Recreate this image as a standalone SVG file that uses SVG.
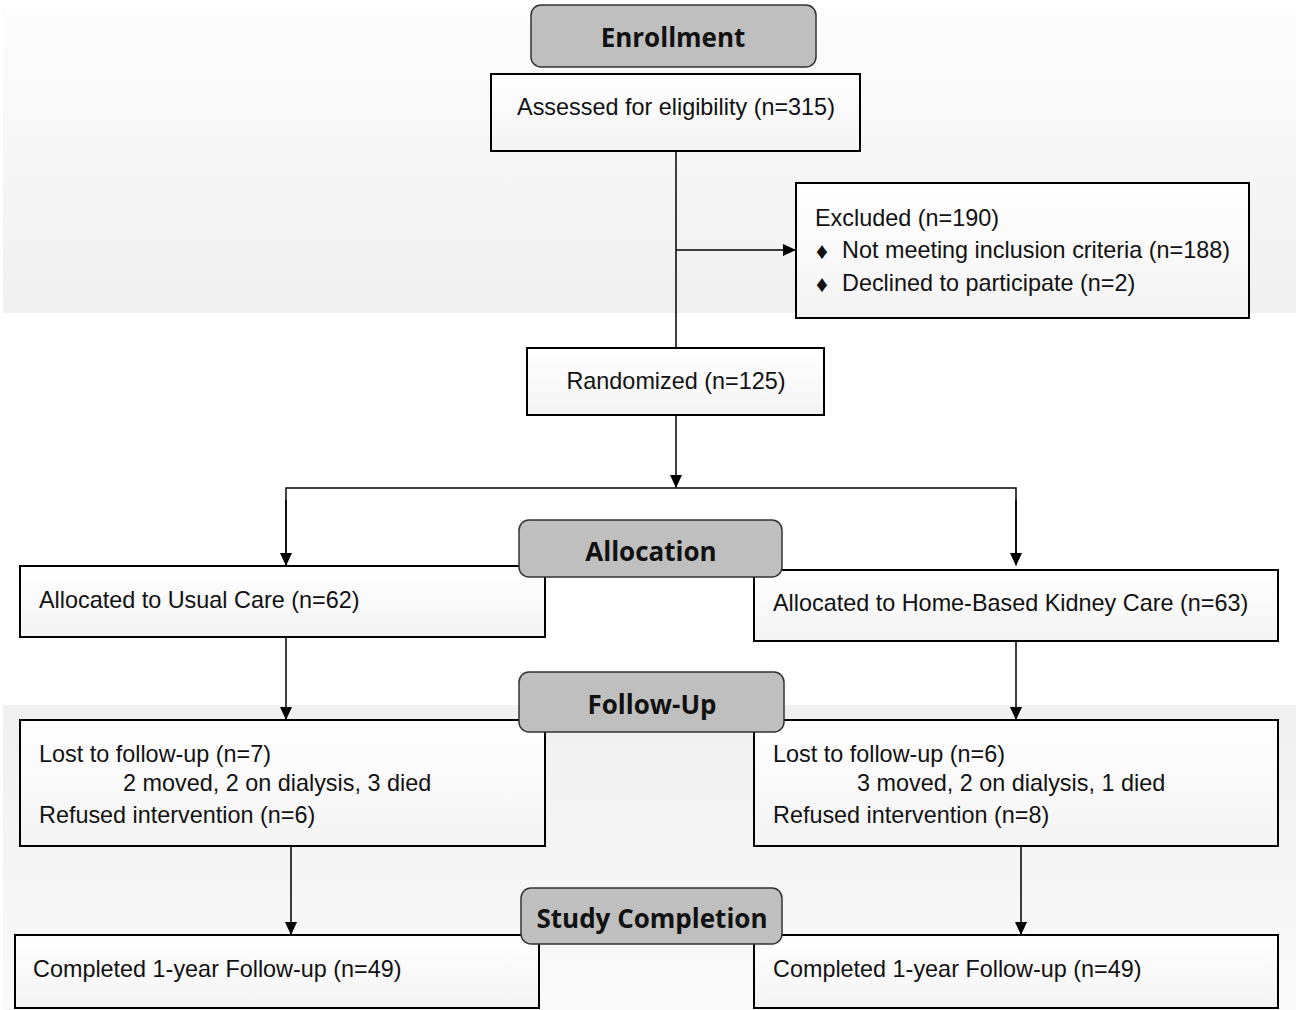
<svg xmlns="http://www.w3.org/2000/svg" width="1296" height="1010" viewBox="0 0 1296 1010">
<style>
.box{stroke:#000;stroke-width:2;fill:url(#boxg)}
.hdr{fill:#bfbfbf;stroke:#333;stroke-width:1.5}
.ht{font-family:"Open Sans","Noto Sans",sans-serif;font-weight:700;font-size:26px;fill:#111;text-anchor:middle}
.t{font-family:"Liberation Sans",Arial,sans-serif;font-size:23.4px;fill:#111}
.c{text-anchor:middle}
.ln{stroke:#000;stroke-width:1.5;fill:none}
</style>
<defs>
<linearGradient id="topband" x1="0" y1="0" x2="0" y2="1">
<stop offset="0" stop-color="#fdfdfd"/><stop offset="1" stop-color="#f0f0f0"/>
</linearGradient>
<linearGradient id="botband" x1="0" y1="0" x2="0" y2="1">
<stop offset="0" stop-color="#f0f0f0"/><stop offset="1" stop-color="#fafafa"/>
</linearGradient>
<linearGradient id="boxg" x1="0" y1="0" x2="0" y2="1">
<stop offset="0" stop-color="#ffffff"/><stop offset="1" stop-color="#f4f4f4"/>
</linearGradient>
<marker id="arr" markerWidth="13" markerHeight="12" refX="12" refY="6" orient="auto" markerUnits="userSpaceOnUse">
<path d="M0,0 L13,6 L0,12 Z" fill="#000"/>
</marker>
</defs>
<rect width="1296" height="1010" fill="#fff"/>
<rect x="3" y="8" width="1293" height="305" fill="url(#topband)"/>
<rect x="3" y="705" width="1293" height="305" fill="url(#botband)"/>

<g id="connectors">
<line class="ln" x1="676" y1="151" x2="676" y2="348"/>
<line class="ln" x1="676" y1="250" x2="795" y2="250" marker-end="url(#arr)"/>
<line class="ln" x1="676" y1="415" x2="676" y2="487" marker-end="url(#arr)"/>
<polyline class="ln" points="286,565 286,488 1016,488 1016,565"/>
<line class="ln" x1="286" y1="500" x2="286" y2="565" marker-end="url(#arr)"/>
<line class="ln" x1="1016" y1="500" x2="1016" y2="565" marker-end="url(#arr)"/>
<line class="ln" x1="286" y1="637" x2="286" y2="719" marker-end="url(#arr)"/>
<line class="ln" x1="1016" y1="641" x2="1016" y2="719" marker-end="url(#arr)"/>
<line class="ln" x1="291" y1="846" x2="291" y2="934" marker-end="url(#arr)"/>
<line class="ln" x1="1021" y1="846" x2="1021" y2="934" marker-end="url(#arr)"/>
</g>

<g id="assessed">
<rect class="box" x="491" y="74" width="369" height="77"/>
<text class="t c" x="676" y="115">Assessed for eligibility (n=315)</text>
</g>
<g id="enrollment">
<rect class="hdr" x="531" y="5" width="285" height="62" rx="10"/>
<text class="ht" x="673" y="47">Enrollment</text>
</g>
<g id="excluded">
<rect class="box" x="796" y="183" width="453" height="135"/>
<text class="t" x="815" y="226">Excluded (n=190)</text>
<text class="t" x="816" y="259" font-size="14">♦</text>
<text class="t" x="842" y="258">Not meeting inclusion criteria (n=188)</text>
<text class="t" x="816" y="292" font-size="14">♦</text>
<text class="t" x="842" y="291">Declined to participate (n=2)</text>
</g>
<g id="randomized">
<rect class="box" x="527" y="348" width="297" height="67"/>
<text class="t c" x="676" y="389">Randomized (n=125)</text>
</g>
<g id="usual">
<rect class="box" x="20" y="566" width="525" height="71"/>
<text class="t" x="39" y="608">Allocated to Usual Care (n=62)</text>
</g>
<g id="home">
<rect class="box" x="754" y="570" width="524" height="71"/>
<text class="t" x="773" y="611">Allocated to Home-Based Kidney Care (n=63)</text>
</g>
<g id="allocation">
<rect class="hdr" x="519" y="520" width="263" height="57" rx="10"/>
<text class="ht" x="651" y="561">Allocation</text>
</g>
<g id="lost-left">
<rect class="box" x="20" y="720" width="525" height="126"/>
<text class="t" x="39" y="762">Lost to follow-up (n=7)</text>
<text class="t" x="123" y="791">2 moved, 2 on dialysis, 3 died</text>
<text class="t" x="39" y="823">Refused intervention (n=6)</text>
</g>
<g id="lost-right">
<rect class="box" x="754" y="720" width="524" height="126"/>
<text class="t" x="773" y="762">Lost to follow-up (n=6)</text>
<text class="t" x="857" y="791">3 moved, 2 on dialysis, 1 died</text>
<text class="t" x="773" y="823">Refused intervention (n=8)</text>
</g>
<g id="followup">
<rect class="hdr" x="519" y="672" width="265" height="60" rx="10"/>
<text class="ht" x="652" y="714">Follow-Up</text>
</g>
<g id="complete-left">
<rect class="box" x="15" y="935" width="524" height="73"/>
<text class="t" x="33" y="977">Completed 1-year Follow-up (n=49)</text>
</g>
<g id="complete-right">
<rect class="box" x="754" y="935" width="524" height="73"/>
<text class="t" x="773" y="977">Completed 1-year Follow-up (n=49)</text>
</g>
<g id="studycompletion">
<rect class="hdr" x="521" y="888" width="261" height="56" rx="10"/>
<text class="ht" x="652" y="928">Study Completion</text>
</g>
</svg>
